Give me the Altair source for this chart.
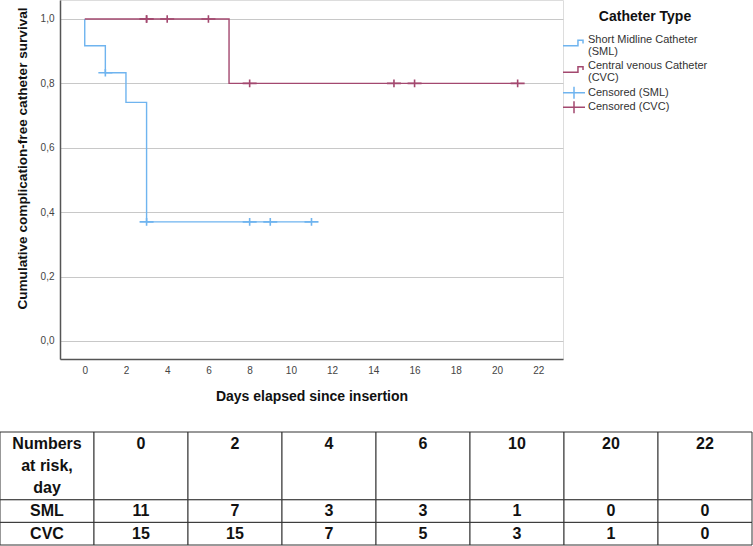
import altair as alt
import pandas as pd

# ---- survival curves (Kaplan-Meier steps) ----
sml_days = [0, 0, 1, 2, 3, 11]
sml_surv = [1.0, 0.917, 0.833, 0.741, 0.370, 0.370]
cvc_days = [0, 7, 21]
cvc_surv = [1.0, 0.8, 0.8]

# ---- censored observations ----
cens_sml_days = [1, 3, 8, 9, 11]
cens_sml_surv = [0.833, 0.370, 0.370, 0.370, 0.370]
cens_cvc_days = [3, 3, 4, 6, 8, 15, 16, 21]
cens_cvc_surv = [1.0, 1.0, 1.0, 1.0, 0.8, 0.8, 0.8, 0.8]

series = ["Short Midline Catheter (SML)", "Central venous Catheter (CVC)",
          "Censored (SML)", "Censored (CVC)"]
legend_title = "Catheter Type"
colors = ["#6fb4ef", "#a3486f", "#6fb4ef", "#a3486f"]

x_ticks = [0, 2, 4, 6, 8, 10, 12, 14, 16, 18, 20, 22]
y_ticks = [0.0, 0.2, 0.4, 0.6, 0.8, 1.0]

# ---- numbers-at-risk table ----
risk_header = "Numbers\nat risk,\nday"
risk_days = ["0", "2", "4", "6", "10", "20", "22"]
risk_groups = ["SML", "CVC"]
risk_sml = [11, 7, 3, 3, 1, 0, 0]
risk_cvc = [15, 15, 7, 5, 3, 1, 0]

FONT = "Liberation Sans"

curve_df = pd.DataFrame({
    "day": sml_days + cvc_days,
    "surv": sml_surv + cvc_surv,
    "series": [series[0]] * len(sml_days) + [series[1]] * len(cvc_days),
    "idx": list(range(len(sml_days))) + list(range(len(cvc_days))),
})
cens_df = pd.DataFrame({
    "day": cens_sml_days + cens_cvc_days,
    "surv": cens_sml_surv + cens_cvc_surv,
    "series": [series[2]] * len(cens_sml_days) + [series[3]] * len(cens_cvc_days),
})

step_path = "M-1,0.25H0.36V-0.25H0.82V0.05"
cross_path = "M-1,0H1M0,-0.55V0.55"

xscale = alt.Scale(domain=[-1.2, 23.2], nice=False, zero=False)
yscale = alt.Scale(domain=[-0.056, 1.059], nice=False, zero=False)
cscale = alt.Scale(domain=series, range=colors)
sscale = alt.Scale(domain=series, range=[step_path, step_path, cross_path, cross_path])

x_axis = alt.Axis(values=x_ticks, title="Days elapsed since insertion", grid=False,
                  ticks=False, labelFontSize=10, labelColor="#444", labelFont=FONT,
                  labelPadding=6, domainColor="#555", domainWidth=1.5, orient="bottom",
                  titleFont=FONT, titleFontSize=14, titleFontWeight="bold",
                  titleColor="#111", titleY=37, titleBaseline="middle")
y_axis = alt.Axis(values=y_ticks, title="Cumulative complication-free catheter survival",
                  grid=True, gridColor="#c8c8c8", gridWidth=1, ticks=False, orient="left",
                  labelExpr="replace(format(datum.value, '.1f'), '.', ',')",
                  labelFontSize=10, labelColor="#444", labelFont=FONT, labelPadding=6,
                  domainColor="#555", domainWidth=1.5,
                  titleFont=FONT, titleFontSize=13.6, titleFontWeight="bold",
                  titleColor="#111", titleAngle=-90, titleX=-38, titleY=158,
                  titleAlign="center", titleBaseline="middle")

lines = alt.Chart(curve_df).mark_line(interpolate="step-after", strokeWidth=1.4).encode(
    x=alt.X("day:Q", scale=xscale, axis=x_axis),
    y=alt.Y("surv:Q", scale=yscale, axis=y_axis),
    color=alt.Color("series:N", scale=cscale, legend=None),
    order="idx:Q",
    detail="series:N",
)

points = alt.Chart(cens_df).mark_point(filled=False, strokeWidth=1.6, size=196, opacity=1).encode(
    x=alt.X("day:Q", scale=xscale, axis=None),
    y=alt.Y("surv:Q", scale=yscale, axis=None),
    color=alt.Color("series:N", scale=cscale, legend=None),
    shape=alt.Shape("series:N", scale=sscale, legend=None),
)

# ---- legend (drawn as its own layers, rows measured in text lines) ----
leg_rows = []
pos = 0.0
for s in series:
    label = s.replace(" (", "\n(") if "Catheter" in s else s
    n = label.count("\n") + 1
    leg_rows.append({"series": s, "label": label, "line": pos,
                     "sym": pos + (n - 1) * 0.25})
    pos += n + 0.2
leg_df = pd.DataFrame(leg_rows)
# one text line = 12 px; first legend line sits 40 px below the top
ly = alt.Scale(domain=[0, 10], range=[40, 160], nice=False, zero=False)

leg_syms = alt.Chart(leg_df).mark_point(filled=False, strokeWidth=1.5, size=484, opacity=1).encode(
    x=alt.value(514),
    y=alt.Y("sym:Q", scale=ly, axis=None),
    color=alt.Color("series:N", scale=cscale, legend=None),
    shape=alt.Shape("series:N", scale=sscale, legend=None),
)
leg_text = alt.Chart(leg_df).mark_text(font=FONT, fontSize=11, color="#333", align="left",
                                       baseline="middle", lineBreak="\n", lineHeight=12).encode(
    x=alt.value(528),
    y=alt.Y("line:Q", scale=ly, axis=None),
    text="label:N",
)
leg_title = alt.Chart(pd.DataFrame({"t": [legend_title], "line": [-1.9]})).mark_text(
    font=FONT, fontSize=14, fontWeight="bold", color="#111", align="center", baseline="middle"
).encode(
    x=alt.value(585),
    y=alt.Y("line:Q", scale=ly, axis=None),
    text="t:N",
)

# ---- table layer ----
cols = [risk_header] + risk_days
cells = []
texts = []
for c, head in enumerate(cols):
    cells.append({"c0": c, "c1": c + 1, "r0": 0, "r1": 3})
    texts.append({"cx": c + 0.5, "ry": 0.55, "txt": head})
for r, (grp, vals) in enumerate(zip(risk_groups, [risk_sml, risk_cvc])):
    row = [grp] + [str(v) for v in vals]
    for c, t in enumerate(row):
        cells.append({"c0": c, "c1": c + 1, "r0": 3 + r, "r1": 4 + r})
        texts.append({"cx": c + 0.5, "ry": 3.5 + r, "txt": t})
cells_df = pd.DataFrame(cells)
texts_df = pd.DataFrame(texts)

tx = alt.Scale(domain=[0, 8], range=[-60, 692], nice=False, zero=False)
ty = alt.Scale(domain=[0, 5], range=[432, 545], nice=False, zero=False)

rects = alt.Chart(cells_df).mark_rect(fill="white", stroke="#333", strokeWidth=1).encode(
    x=alt.X("c0:Q", scale=tx, axis=None), x2="c1:Q",
    y=alt.Y("r0:Q", scale=ty, axis=None), y2="r1:Q",
)
tlabels = alt.Chart(texts_df).mark_text(font=FONT, fontSize=16, fontWeight="bold",
                                        color="#111", lineBreak="\n", lineHeight=22,
                                        baseline="middle", align="center").encode(
    x=alt.X("cx:Q", scale=tx, axis=None),
    y=alt.Y("ry:Q", scale=ty, axis=None),
    text="txt:N",
)

chart = alt.layer(lines, points, leg_syms, leg_text, leg_title, rects, tlabels).resolve_scale(
    x="independent", y="independent"
).properties(
    width=503, height=359,
    autosize=alt.AutoSizeParams(type="none"),
    padding={"left": 60, "top": 0, "right": 190, "bottom": 187},
).configure_view(strokeWidth=0).configure(background="white")

chart.save("out.html", embed_options={"renderer": "svg", "actions": False})
